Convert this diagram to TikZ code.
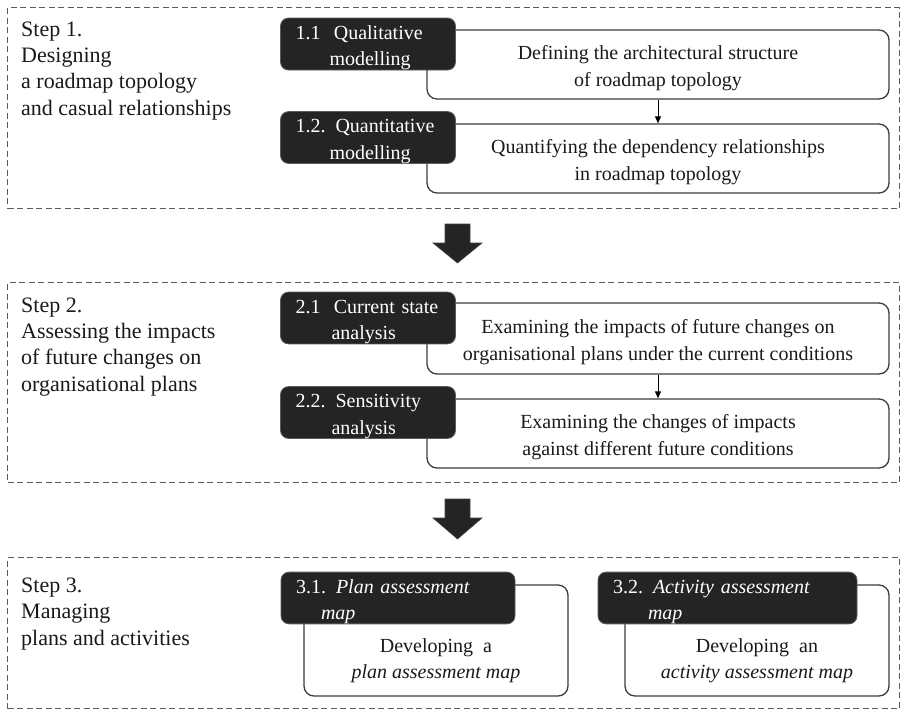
\documentclass[tikz,border=0pt]{standalone}
\usepackage{fontspec}
\setmainfont{Liberation Serif}
\usetikzlibrary{arrows.meta}
\definecolor{framegray}{HTML}{5A5A5A}
\definecolor{boxline}{HTML}{3C3C3C}
\definecolor{darkfill}{HTML}{242424}
\definecolor{inktext}{HTML}{1A1A1A}
% extra room above the first line of a box label
\newcommand{\labelgap}{\rule{0pt}{21pt}}
\begin{document}
\begin{tikzpicture}[x=1pt,y=-1pt,
  stepframe/.style={draw=framegray, line width=1.2pt, dash pattern=on 6pt off 3.5pt,
    minimum width=892pt, inner sep=0pt, anchor=north west},
  steptext/.style={anchor=base west, align=left, inner sep=0pt,
    font=\fontsize{22}{26.3}\selectfont, text=inktext},
  taskbox/.style={draw=boxline, line width=1.3pt, fill=white, rounded corners=10pt,
    inner sep=0pt, align=center, font=\fontsize{20}{26.5}\selectfont, text=inktext},
  tasktext/.style={inner sep=0pt, align=center, font=\fontsize{20}{26}\selectfont, text=inktext},
  methodbox/.style={draw=darkfill!75!white, line width=0.8pt, fill=darkfill, rounded corners=8pt,
    inner xsep=15pt, inner ysep=0pt, align=left, text=white,
    font=\fontsize{20}{26.5}\selectfont},
  flowlink/.style={draw=black, line width=1pt, -{Triangle[width=6pt,length=7pt]}},
  flowarrow/.style={fill=darkfill, draw=darkfill!85!white, line width=0.6pt}
]
\useasboundingbox (0,0) rectangle (903,713);

% ---------- Step 1 ----------
\node[stepframe, minimum height=201pt] (frame1) at (7,7) {};
% a multi-line node sits on the baseline of its last line
\node[steptext] (s1) at (21,115) {Step 1.\\Designing\\a roadmap topology\\and casual relationships};

\node[taskbox, minimum width=462pt, minimum height=69pt] (w11) at (658,64.5)
  {\labelgap Defining the architectural structure\\of roadmap topology};
\node[taskbox, minimum width=462pt, minimum height=69pt] (w12) at (658,158.5)
  {\labelgap Quantifying the dependency relationships\\in roadmap topology};
\node[methodbox, text width=145pt, minimum height=52pt] (m11) at (368,44)
  {\labelgap 1.1\ \ Qualitative\\\hspace*{34pt}modelling};
\node[methodbox, text width=145pt, minimum height=51pt] (m12) at (368,137.5)
  {\labelgap 1.2. Quantitative\\\hspace*{34pt}modelling};
\draw[flowlink] (w11.south) -- (w12.north);

% ---------- arrow 1 -> 2 ----------
\coordinate (go12) at (457.5,224);
\filldraw[flowarrow] (go12) ++(-12.5,0) -- ++(25,0) -- ++(0,19) -- ++(12,0)
  -- ++(-24.5,20) -- ++(-24.5,-20) -- ++(12,0) -- cycle;

% ---------- Step 2 ----------
\node[stepframe, minimum height=200pt] (frame2) at (7,282) {};
\node[steptext] (s2) at (21,391) {Step 2.\\Assessing the impacts\\of future changes on\\organisational plans};

\node[taskbox, minimum width=462pt, minimum height=71pt] (w21) at (658,338.5)
  {\labelgap Examining the impacts of future changes on\\organisational plans under the current conditions};
\node[taskbox, minimum width=462pt, minimum height=69pt] (w22) at (658,433.5)
  {\labelgap Examining the changes of impacts\\against different future conditions};
\node[methodbox, text width=145pt, minimum height=50pt] (m21) at (368,318)
  {\labelgap 2.1\ \ Current state\\\hspace*{36pt}analysis};
\node[methodbox, text width=145pt, minimum height=51pt] (m22) at (368,412.5)
  {\labelgap 2.2. Sensitivity\\\hspace*{36pt}analysis};
\draw[flowlink] (w21.south) -- (w22.north);

% ---------- arrow 2 -> 3 ----------
\coordinate (go23) at (457.5,499);
\filldraw[flowarrow] (go23) ++(-12.5,0) -- ++(25,0) -- ++(0,19) -- ++(12,0)
  -- ++(-24.5,21) -- ++(-24.5,-21) -- ++(12,0) -- cycle;

% ---------- Step 3 ----------
\node[stepframe, minimum height=151pt] (frame3) at (7,557) {};
\node[steptext] (s3) at (21,645) {Step 3.\\Managing\\plans and activities};

\node[taskbox, minimum width=264pt, minimum height=111pt] (w31) at (436,640.5) {};
\node[tasktext] (t31) at (436,661) {Developing\ \ a\\\textit{plan assessment map}};
\node[taskbox, minimum width=264pt, minimum height=111pt] (w32) at (757,640.5) {};
\node[tasktext] (t32) at (757,661) {Developing\ \ an\\\textit{activity assessment map}};
\node[methodbox, text width=204pt, minimum height=50pt] (m31) at (398,598)
  {\labelgap 3.1. \textit{Plan assessment}\\\hspace*{25pt}\textit{map}};
\node[methodbox, text width=229pt, minimum height=50pt] (m32) at (727.5,598)
  {\labelgap 3.2. \textit{Activity assessment}\\\hspace*{35pt}\textit{map}};
\end{tikzpicture}
\end{document}
